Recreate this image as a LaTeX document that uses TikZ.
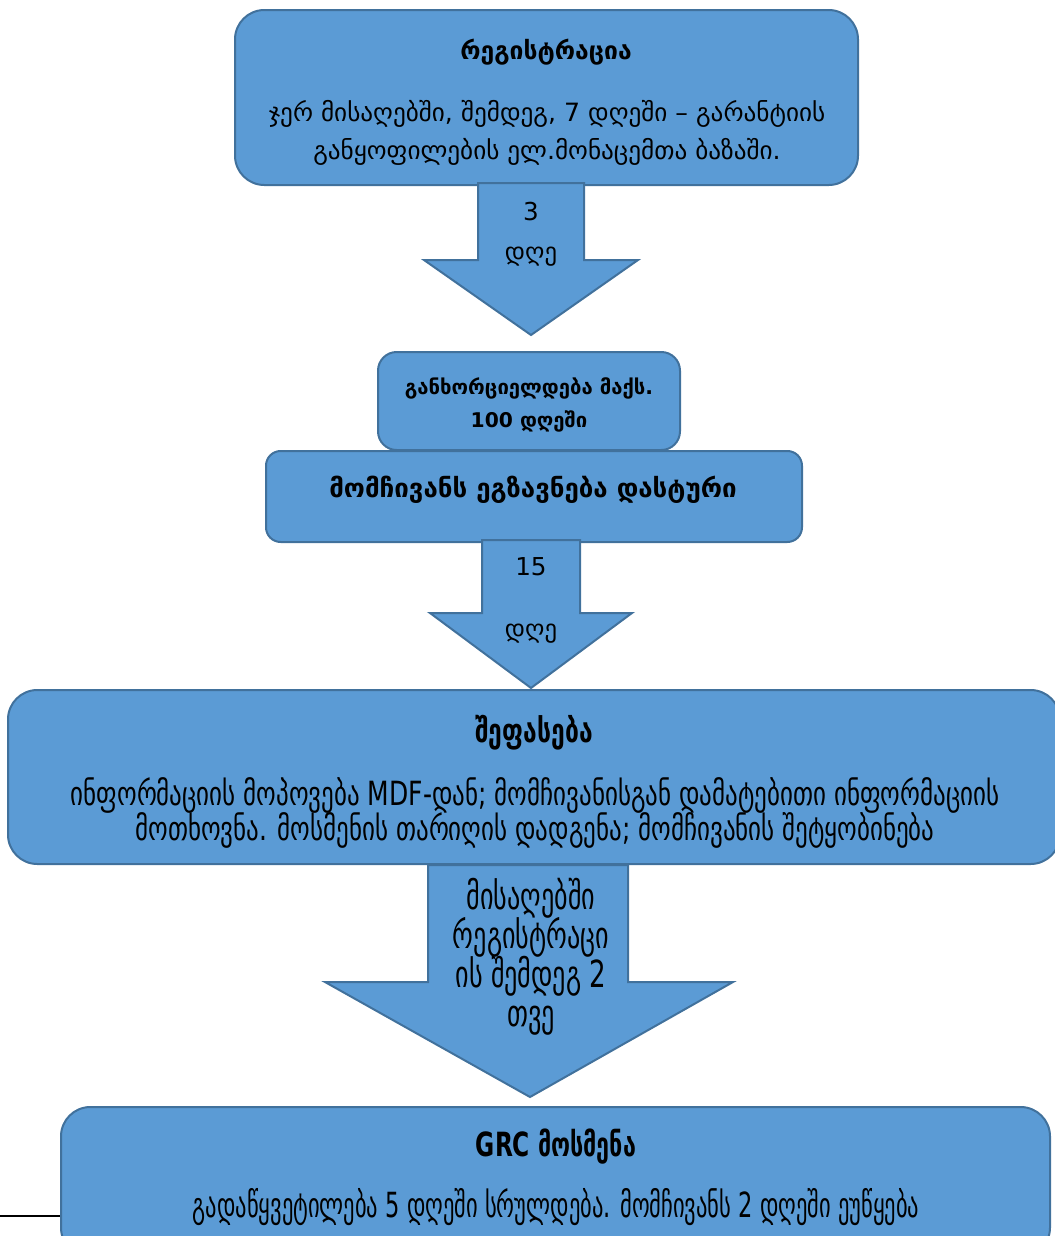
\documentclass[tikz,border=0pt]{standalone}
\usepackage{fontspec}
\newfontfamily\geo{DejaVu Sans}
\newfontfamily\geoA[FakeStretch=0.75]{DejaVu Sans}
\newfontfamily\geoB[FakeStretch=0.7]{DejaVu Sans}
\newfontfamily\geoC[FakeStretch=0.65]{DejaVu Sans}
\newcommand\tightls{\lineskiplimit=-100pt\relax}
\usetikzlibrary{calc}
\definecolor{boxfill}{HTML}{5B9BD5}
\definecolor{boxline}{HTML}{41719C}
\tikzset{
  box/.style={draw=boxline, fill=boxfill, line width=1.5pt, rounded corners=#1, inner sep=0pt},
  box/.default=20pt,
  blockarrow/.style={draw=boxline, fill=boxfill, line width=1.5pt, line join=miter},
  txt/.style={text=black, align=center, inner sep=0pt},
}
\begin{document}
\begin{tikzpicture}[x=0.75pt,y=-0.75pt]
\useasboundingbox (0,0) rectangle (1055,1236);
\begin{scope}
\clip (0,0) rectangle (1055,1236);
% box 1
\node[box=22pt, minimum width=623*0.75pt, minimum height=175*0.75pt] (b1) at (546.5,97.5) {};
% box 2
\node[box=14pt, minimum width=302*0.75pt, minimum height=98*0.75pt] (b2) at (529,401) {};
% box 3
\node[box=11pt, minimum width=536*0.75pt, minimum height=91*0.75pt] (b3) at (534,496.5) {};
% arrow 1
\draw[blockarrow] (478,183) -- (584,183) -- (584,260) -- (638,260) -- (531,335) -- (424,260) -- (478,260) -- cycle;
% arrow 2
\draw[blockarrow] (482,540) -- (580,540) -- (580,613) -- (632,613) -- (531,688) -- (430,613) -- (482,613) -- cycle;
% box 4
\node[box=22pt, minimum width=1052*0.75pt, minimum height=174*0.75pt] (b4) at (534,777) {};
% arrow 3
\draw[blockarrow] (428,865) -- (628,865) -- (628,982) -- (733,982) -- (530,1097) -- (325,982) -- (428,982) -- cycle;
% box 5
\node[box=22pt, minimum width=989*0.75pt, minimum height=150*0.75pt] (b5) at (555.5,1182) {};
\end{scope}
\coordinate (l0) at (0,1216);
\draw[black, line width=1.2pt] (l0) -- (l0 -| b5.west);
% texts
\node[txt, font=\geo\bfseries\fontsize{18.5}{20}\selectfont] (t1) at (546,52) {რეგისტრაცია};
\node[txt, font=\geo\fontsize{18.9}{28.5}\selectfont\tightls] (t1b) at (547,133) {ჯერ მისაღებში, შემდეგ, 7 დღეში – გარანტიის\\განყოფილების ელ.მონაცემთა ბაზაში.};
\node[txt, font=\geo\fontsize{18.5}{30}\selectfont\tightls] (a1) at (531,234) {3\\დღე};
\node[txt, font=\geo\bfseries\fontsize{15.2}{24.75}\selectfont\tightls] (t2) at (529,405) {განხორციელდება მაქს.\\100 დღეში};
\node[txt, font=\geo\bfseries\fontsize{19.4}{20}\selectfont] (t3) at (533,490) {მომჩივანს ეგზავნება დასტური};
\node[txt, font=\geo\fontsize{18.5}{46.5}\selectfont\tightls] (a2) at (531,600) {15\\დღე};
\node[txt, font=\geoA\bfseries\fontsize{24.7}{20}\selectfont] (t4) at (534,733) {შეფასება};
\node[txt, font=\geoA\fontsize{25}{26.25}\selectfont\tightls] (t4b) at (535,813) {ინფორმაციის მოპოვება MDF-დან; მომჩივანისგან დამატებითი ინფორმაციის\\მოთხოვნა.  მოსმენის თარიღის დადგენა; მომჩივანის შეტყობინება};
\node[txt, font=\geoB\fontsize{28}{29.25}\selectfont\tightls] (a3) at (531,957) {მისაღებში\\რეგისტრაცი\\ის შემდეგ 2\\თვე};
\node[txt, font=\geoB\bfseries\fontsize{25}{20}\selectfont] (t5) at (556,1147) {GRC მოსმენა};
\node[txt, font=\geoC\fontsize{26}{20}\selectfont] (t5b) at (556,1207) {გადაწყვეტილება 5 დღეში სრულდება. მომჩივანს 2 დღეში ეუწყება};
\end{tikzpicture}
\end{document}
